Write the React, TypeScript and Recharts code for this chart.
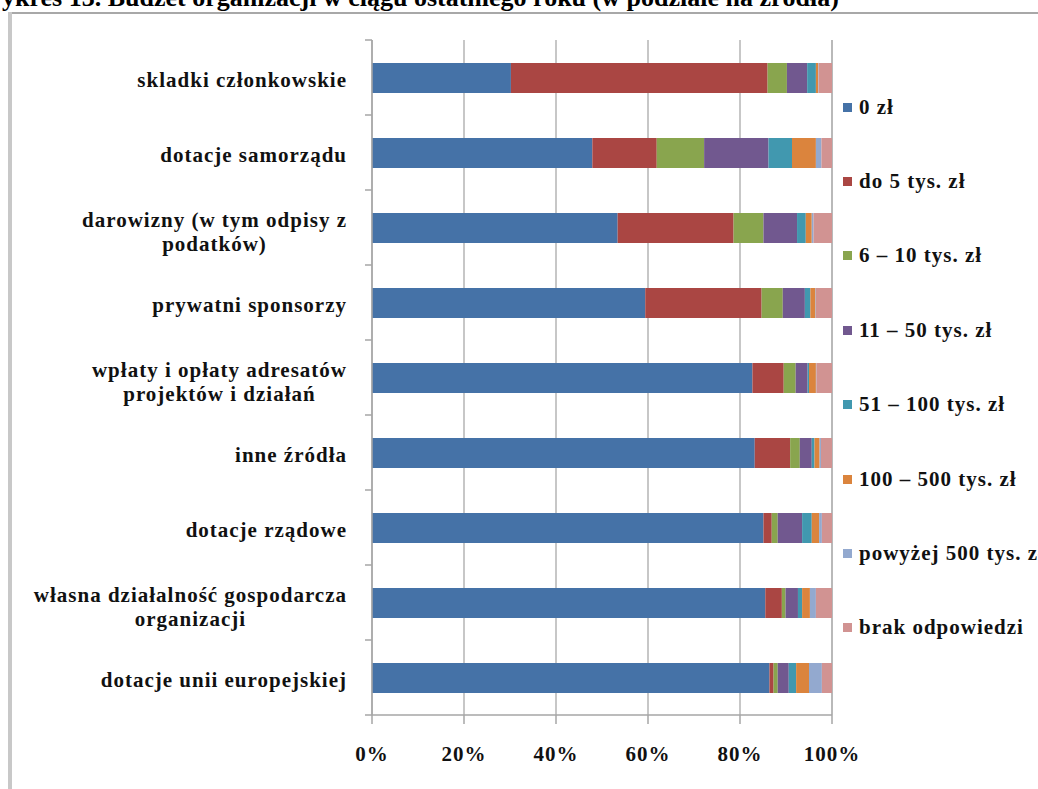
import React from "react";
import { BarChart, Bar, XAxis, YAxis, CartesianGrid } from "recharts";

const categories = [
  "skladki członkowskie",
  "dotacje samorządu",
  "darowizny (w tym odpisy z\npodatków)",
  "prywatni sponsorzy",
  "wpłaty i opłaty adresatów\nprojektów i działań",
  "inne źródła",
  "dotacje rządowe",
  "własna działalność gospodarcza\norganizacji",
  "dotacje unii europejskiej",
];

const seriesNames = [
  "0 zł",
  "do 5 tys. zł",
  "6 – 10 tys. zł",
  "11 – 50 tys. zł",
  "51 – 100 tys. zł",
  "100 – 500 tys. zł",
  "powyżej 500 tys. zł",
  "brak odpowiedzi",
];

const zero = [30.2, 47.9, 53.4, 59.4, 82.7, 83.2, 85.1, 85.5, 86.4];
const upTo5 = [55.8, 14.0, 25.2, 25.3, 6.8, 7.7, 1.8, 3.6, 0.9];
const from6to10 = [4.2, 10.3, 6.5, 4.6, 2.6, 2.1, 1.3, 0.8, 0.9];
const from11to50 = [4.4, 14.0, 7.3, 4.8, 2.6, 2.6, 5.3, 2.7, 2.4];
const from51to100 = [1.9, 5.1, 1.9, 1.2, 0.3, 0.6, 2.1, 0.9, 1.6];
const from100to500 = [0.5, 5.2, 1.3, 1.1, 1.5, 1.1, 1.6, 1.7, 2.8];
const over500 = [0.1, 1.2, 0.4, 0.1, 0.1, 0.3, 0.6, 1.3, 2.8];
const noAnswer = [2.9, 2.3, 4.0, 3.5, 3.4, 2.4, 2.2, 3.5, 2.2];

const xTicks = [0, 20, 40, 60, 80, 100];

const seriesValues = [zero, upTo5, from6to10, from11to50, from51to100, from100to500, over500, noAnswer];
const colors = ["#4572A7", "#AA4643", "#89A54E", "#71588F", "#4198AF", "#DB843D", "#93A9CF", "#D19392"];

const data = categories.map((name, i) => {
  const row: Record<string, string | number> = { name };
  seriesValues.forEach((vals, s) => {
    row["s" + s] = vals[i];
  });
  return row;
});

const FONT = '"Liberation Serif", "Times New Roman", serif';
const FS = 21;
const LS = 1;

let ctx: CanvasRenderingContext2D | null = null;
function measure(text: string) {
  if (!ctx) {
    ctx = document.createElement("canvas").getContext("2d");
    if (ctx) ctx.font = `bold ${FS}px ${FONT}`;
  }
  const w = ctx ? ctx.measureText(text).width : text.length * 9;
  return w + text.length * LS;
}

function CategoryTick(props: any) {
  const { x, y, payload, index } = props;
  const lines = String(payload.value).split("\n");
  const widest = Math.max(...lines.map(measure));
  const cx = x - 25 - widest / 2;
  const first = lines.length > 1 ? y - 0.5 : y + 9;
  return (
    <g>
      {lines.map((l, i) => (
        <text
          key={i}
          x={cx}
          y={first + i * 24}
          textAnchor="middle"
          fontFamily={FONT}
          fontWeight="bold"
          fontSize={FS}
          letterSpacing={LS}
          fill="#111"
        >
          {l}
        </text>
      ))}
      <line x1={x - 7} x2={x} y1={y - 37.5} y2={y - 37.5} stroke="#a6a6a6" strokeWidth={1.5} />
      {index === categories.length - 1 && (
        <line x1={x - 7} x2={x} y1={y + 37.5} y2={y + 37.5} stroke="#a6a6a6" strokeWidth={1.5} />
      )}
    </g>
  );
}

export default function App() {
  return (
    <div
      style={{
        position: "fixed",
        left: 0,
        top: 0,
        width: 1038,
        height: 789,
        overflow: "hidden",
        background: "#fff",
      }}
    >
      <svg width={1038} height={20} style={{ position: "absolute", left: 0, top: 0 }}>
        <text x={-23} y={6} fontFamily={FONT} fontWeight="bold" fontSize={26} fill="#000">
          Wykres 13. Budżet organizacji w ciągu ostatniego roku (w podziale na źródła)
        </text>
      </svg>
      <div style={{ position: "absolute", left: 10, top: 12, width: 1028, height: 2, background: "#a8a8a8" }} />
      <div style={{ position: "absolute", left: 8, top: 12, width: 4, height: 777, background: "#c8c8c8" }} />

      <div style={{ position: "absolute", left: 0, top: 0 }}>
        <BarChart
          width={1038}
          height={789}
          data={data}
          layout="vertical"
          margin={{ top: 40, right: 206, bottom: 24, left: 0 }}
          barSize={30}
        >
          <CartesianGrid horizontal={false} stroke="#b4b4b4" strokeWidth={1.5} />
          <XAxis
            type="number"
            domain={[0, 100]}
            ticks={xTicks}
            tickFormatter={(v) => `${v}%`}
            height={50}
            axisLine={{ stroke: "#a6a6a6", strokeWidth: 1.5 }}
            tickLine={{ stroke: "#a6a6a6", strokeWidth: 1.5 }}
            tickSize={9}
            tickMargin={22}
            tick={{ fontFamily: FONT, fontWeight: "bold", fontSize: FS, letterSpacing: LS, fill: "#111" }}
            interval={0}
          />
          <YAxis
            type="category"
            dataKey="name"
            width={372}
            axisLine={{ stroke: "#a6a6a6", strokeWidth: 1.5 }}
            tickLine={false}
            tickSize={0}
            tickMargin={0}
            interval={0}
            tick={<CategoryTick />}
          />
          {seriesNames.map((n, s) => (
            <Bar key={n} dataKey={"s" + s} name={n} stackId="a" fill={colors[s]} isAnimationActive={false} />
          ))}
        </BarChart>
      </div>

      {seriesNames.map((n, s) => (
        <div
          key={n}
          style={{
            position: "absolute",
            left: 843,
            top: 107 + s * 74.4 - 12,
            height: 24,
            display: "flex",
            alignItems: "center",
            whiteSpace: "nowrap",
            fontFamily: FONT,
            fontWeight: "bold",
            fontSize: FS,
            letterSpacing: LS,
            color: "#111",
          }}
        >
          <span style={{ display: "inline-block", width: 9, height: 9, background: colors[s], marginRight: 7 }} />
          {n}
        </div>
      ))}
    </div>
  );
}
